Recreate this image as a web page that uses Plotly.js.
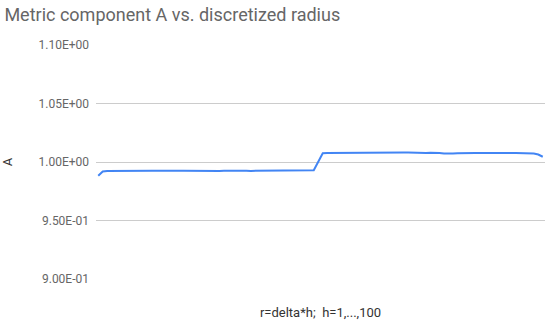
<!DOCTYPE html>
<html>
<head>
<meta charset="utf-8">
<script src="https://cdn.plot.ly/plotly-3.0.1.min.js"></script>
<style>
  html, body { margin: 0; padding: 0; background: #fff; }
  #chart { width: 550px; height: 326px; }
</style>
</head>
<body>
<div id="chart"></div>
<script>
// A(h), h = 1..100
var lowPart = [
  0.9882, 0.9918, 0.9922, 0.9923, 0.9924, 0.9924, 0.9925, 0.9925, 0.9926, 0.9927,
  0.9928, 0.9928, 0.9926, 0.9925, 0.9924, 0.9923, 0.9922, 0.9923, 0.9925, 0.9926,
  0.9925, 0.9924, 0.9924, 0.9925, 0.9925, 0.9926, 0.9925, 0.9924, 0.9925, 0.9926,
  0.9927, 0.9926, 0.9925, 0.9925, 0.9924, 0.9924, 0.9925, 0.9924, 0.9923, 0.9923,
  0.9924, 0.9924, 0.9925, 0.9926, 0.9925, 0.9924, 0.9925, 0.9927, 0.9929, 1.0002
];
var highPart = [
  1.0075, 1.0076, 1.0076, 1.0075, 1.0076, 1.0077, 1.0077, 1.0078, 1.0079, 1.0078,
  1.0078, 1.0079, 1.0079, 1.0079, 1.0078, 1.0077, 1.0078, 1.0079, 1.0081, 1.0082,
  1.0080, 1.0079, 1.0078, 1.0078, 1.0079, 1.0080, 1.0077, 1.0073, 1.0071, 1.0072,
  1.0074, 1.0076, 1.0077, 1.0078, 1.0077, 1.0076, 1.0077, 1.0078, 1.0078, 1.0077,
  1.0077, 1.0078, 1.0078, 1.0077, 1.0077, 1.0078, 1.0076, 1.0072, 1.0064, 1.0045
];
var A = lowPart.concat(highPart);

var h = [];
for (i = 0; i < A.length; i++) {
  h.push(i + 1);
}

var yTicks = [0.90, 0.95, 1.00, 1.05, 1.10];
var yTickText = ['9.00E-01', '9.50E-01', '1.00E+00', '1.05E+00', '1.10E+00'];

var trace1 = {
  x: h,
  y: A,
  mode: 'lines',
  type: 'scatter',
  line: {color: '#4285f4', width: 2}
};

var layout = {
  width: 550,
  height: 326,
  margin: {l: 96, r: 5, t: 45, b: 47},
  paper_bgcolor: '#fff',
  plot_bgcolor: '#fff',
  font: {family: 'Roboto, sans-serif', color: '#666'},
  showlegend: false,
  title: {
    text: 'Metric component A vs. discretized radius',
    font: {size: 18, color: '#666'},
    x: 0.008,
    xanchor: 'left',
    yref: 'container',
    y: 0.955,
    yanchor: 'middle'
  },
  xaxis: {
    range: [0.5, 100.5],
    showticklabels: false,
    showgrid: false,
    zeroline: false,
    showline: false,
    ticks: '',
    title: {text: 'r=delta*h;&nbsp;&nbsp;h=1,...,100', font: {size: 13, color: '#333'}, standoff: 28}
  },
  yaxis: {
    range: [0.8999, 1.1001],
    tickvals: yTicks,
    ticktext: yTickText,
    tickfont: {size: 12, color: '#666'},
    ticklabelstandoff: 6,
    showgrid: true,
    gridcolor: '#cccccc',
    zeroline: false,
    showline: false,
    ticks: '',
    title: {text: 'A', font: {size: 13, color: '#333'}, standoff: 22}
  }
};

Plotly.newPlot('chart', [trace1], layout, {displayModeBar: false, staticPlot: true});
</script>
</body>
</html>
